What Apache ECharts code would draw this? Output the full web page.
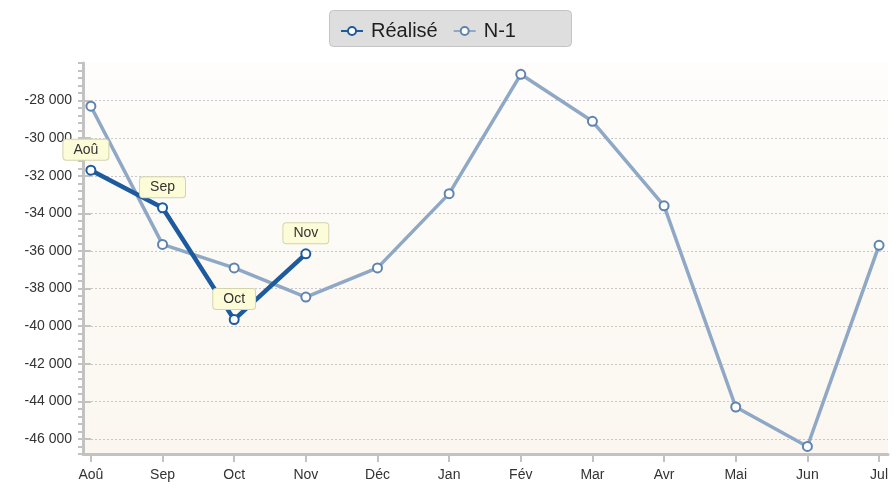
<!DOCTYPE html>
<html><head><meta charset="utf-8">
<script src="https://cdn.jsdelivr.net/npm/echarts@6/dist/echarts.min.js"></script>
<style>html,body{margin:0;padding:0;background:#fff}#c{width:896px;height:489px}</style>
</head><body><div id="c"></div>
<script>
const months = ['Aoû','Sep','Oct','Nov','Déc','Jan','Fév','Mar','Avr','Mai','Jun','Jul'];
const realise = [-31700, -33700, -39650, -36150];
const n1 = [-28300, -35650, -36900, -38450, -36900, -32950, -26600, -29100, -33600, -44300, -46400, -35700];
const yTicks = [-46000, -44000, -42000, -40000, -38000, -36000, -34000, -32000, -30000, -28000];
const xTicks = months.map((m, i) => i);

const FONT = '"Liberation Sans", Arial, sans-serif';
const fmt = v => (v < 0 ? '-' : '') + Math.abs(v).toString().replace(/\B(?=(\d{3})+(?!\d))/g, ' ');
const AX = '#c2c2c2';

const chart = echarts.init(document.getElementById('c'), null, {renderer: 'canvas'});
chart.setOption({
  animation: false,
  textStyle: {fontFamily: FONT},
  graphic: [{
    type: 'rect', left: 329, top: 10, z: -1,
    shape: {width: 242, height: 36, r: 4},
    style: {fill: '#dedede', stroke: '#c4c4c4', lineWidth: 1}
  }],
  legend: {
    left: 335, top: 16, itemWidth: 22, itemHeight: 10, itemGap: 15,
    textStyle: {fontFamily: FONT, fontSize: 20, color: '#1e1e1e', padding: [0, 0, 0, 3]},
    data: ['Réalisé', 'N-1']
  },
  grid: {
    left: 83, right: 8, top: 63, bottom: 35, show: true, borderWidth: 0,
    backgroundColor: new echarts.graphic.LinearGradient(0, 0, 0, 1, [
      {offset: 0, color: '#fefdfb'}, {offset: 1, color: '#fbf7f0'}
    ])
  },
  xAxis: {
    type: 'value', min: -0.11, max: 11.125,
    axisLine: {show: true, lineStyle: {color: AX, width: 3}},
    axisTick: {show: true, customValues: xTicks, length: 8, lineStyle: {color: AX, width: 2}},
    axisLabel: {customValues: xTicks, formatter: v => months[Math.round(v)] || '', margin: 14,
      fontFamily: FONT, fontSize: 14, color: '#333'},
    splitLine: {show: false}
  },
  yAxis: [{
    type: 'value', min: -46800, max: -26000, interval: 400, position: 'left',
    axisLine: {show: true, onZero: false, lineStyle: {color: AX, width: 3}},
    axisTick: {show: true, length: 5, lineStyle: {color: AX, width: 2}},
    axisLabel: {show: false},
    splitLine: {show: false}
  }, {
    type: 'value', min: -46800, max: -26000, position: 'left',
    axisLine: {show: false},
    axisTick: {show: true, customValues: yTicks, length: 9, lineStyle: {color: AX, width: 2}},
    axisLabel: {customValues: yTicks, formatter: fmt, margin: 11, fontFamily: FONT, fontSize: 14, color: '#333'},
    splitLine: {show: true, lineStyle: {color: '#c8c8c8', type: [2, 2], width: 1}}
  }],
  series: [{
    name: 'N-1', type: 'line', yAxisIndex: 0, z: 2,
    data: n1.map((v, i) => [i, v]),
    symbol: 'circle', symbolSize: 9,
    lineStyle: {color: '#8ea8c6', width: 3.5},
    itemStyle: {color: '#fff', borderColor: '#5f84af', borderWidth: 2},
    emphasis: {disabled: true}
  }, {
    name: 'Réalisé', type: 'line', yAxisIndex: 0, z: 3,
    data: realise.map((v, i) => ({value: [i, v], label: i === 0 ? {offset: [-5, 0]} : {}})),
    symbol: 'circle', symbolSize: 9,
    lineStyle: {color: '#1d5a9e', width: 4.5},
    itemStyle: {color: '#fff', borderColor: '#1d5a9e', borderWidth: 2},
    label: {
      show: true, position: 'top', distance: 5,
      formatter: p => months[p.dataIndex],
      fontFamily: FONT, fontSize: 14, color: '#333',
      backgroundColor: '#fdfcd8', borderColor: '#d4d3ae', borderWidth: 1, borderRadius: 3,
      padding: [3, 10, 3, 10]
    },
    emphasis: {disabled: true}
  }]
});
</script></body></html>
